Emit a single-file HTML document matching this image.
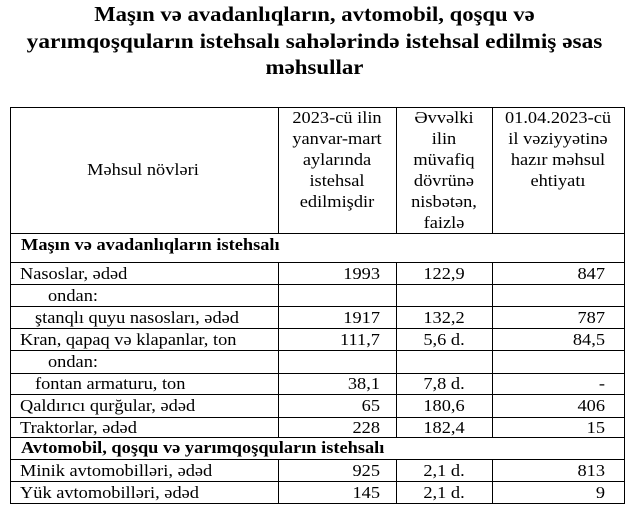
<!DOCTYPE html>
<html>
<head>
<meta charset="utf-8">
<style>
  html,body{margin:0;padding:0;background:#fff;}
  #c{position:relative;width:629px;height:505px;overflow:hidden;background:#fff;
     font-family:"Liberation Serif","DejaVu Serif",serif;color:#000;}
  .t{position:absolute;left:0;width:629px;text-align:center;font-weight:bold;font-size:21px;line-height:26.5px;white-space:nowrap;transform-origin:314.5px 50%;}
  .h{position:absolute;height:1px;background:#000;left:10px;width:615px;}
  .v{position:absolute;width:1px;background:#000;}
  .x{position:absolute;font-size:17px;white-space:nowrap;transform:scaleX(1.08);transform-origin:0 50%;}
  .r{text-align:right;transform-origin:100% 50%;}
  .cc{text-align:center;transform-origin:50% 50%;}
  .hd{position:absolute;font-size:17px;line-height:21px;text-align:center;white-space:nowrap;transform:scaleX(1.08);transform-origin:50% 50%;}
  b{font-weight:bold;}
</style>
</head>
<body>
<div id="c">
  <div class="t" style="top:1px;transform:scaleX(1.08);">Maşın və avadanlıqların, avtomobil, qoşqu və</div>
  <div class="t" style="top:27.5px;transform:scaleX(1.11);">yarımqoşquların istehsalı sahələrində istehsal edilmiş əsas</div>
  <div class="t" style="top:54px;transform:scaleX(1.09);">məhsullar</div>

  <!-- horizontal lines -->
  <div class="h" style="top:107px;"></div>
  <div class="h" style="top:233px;"></div>
  <div class="h" style="top:262px;"></div>
  <div class="h" style="top:284px;"></div>
  <div class="h" style="top:306px;"></div>
  <div class="h" style="top:328px;"></div>
  <div class="h" style="top:350px;"></div>
  <div class="h" style="top:373px;"></div>
  <div class="h" style="top:394px;"></div>
  <div class="h" style="top:417px;"></div>
  <div class="h" style="top:437px;"></div>
  <div class="h" style="top:459px;"></div>
  <div class="h" style="top:481px;"></div>
  <div class="h" style="top:503px;"></div>

  <!-- outer verticals -->
  <div class="v" style="left:10px;top:107px;height:397px;"></div>
  <div class="v" style="left:624px;top:107px;height:397px;"></div>
  <!-- inner verticals: header -->
  <div class="v" style="left:278px;top:107px;height:126px;"></div>
  <div class="v" style="left:396px;top:107px;height:126px;"></div>
  <div class="v" style="left:492px;top:107px;height:126px;"></div>
  <!-- inner verticals: body 1 -->
  <div class="v" style="left:278px;top:262px;height:175px;"></div>
  <div class="v" style="left:396px;top:262px;height:175px;"></div>
  <div class="v" style="left:492px;top:262px;height:175px;"></div>
  <!-- inner verticals: body 2 -->
  <div class="v" style="left:278px;top:459px;height:44px;"></div>
  <div class="v" style="left:396px;top:459px;height:44px;"></div>
  <div class="v" style="left:492px;top:459px;height:44px;"></div>

  <!-- header -->
  <div class="hd" style="left:10px;width:266px;top:159px;">Məhsul növləri</div>
  <div class="hd" style="left:278px;width:118px;top:107px;">2023-cü ilin<br>yanvar-mart<br>aylarında<br>istehsal<br>edilmişdir</div>
  <div class="hd" style="left:396px;width:96px;top:107px;">Əvvəlki<br>ilin<br>müvafiq<br>dövrünə<br>nisbətən,<br>faizlə</div>
  <div class="hd" style="left:492px;width:132px;top:107px;">01.04.2023-cü<br>il vəziyyətinə<br>hazır məhsul<br>ehtiyatı</div>

  <!-- section 1 -->
  <div class="x" style="left:21px;top:233px;line-height:24px;"><b>Maşın və avadanlıqların istehsalı</b></div>

  <!-- rows: label -->
  <div class="x" style="left:20px;top:262px;line-height:23px;">Nasoslar, ədəd</div>
  <div class="x" style="left:48px;top:284px;line-height:23px;">ondan:</div>
  <div class="x" style="left:35px;top:306px;line-height:23px;">ştanqlı quyu nasosları, ədəd</div>
  <div class="x" style="left:20px;top:328px;line-height:23px;">Kran, qapaq və klapanlar, ton</div>
  <div class="x" style="left:48px;top:350px;line-height:23px;">ondan:</div>
  <div class="x" style="left:35px;top:373px;line-height:22px;">fontan armaturu, ton</div>
  <div class="x" style="left:20px;top:394px;line-height:23px;">Qaldırıcı qurğular, ədəd</div>
  <div class="x" style="left:20px;top:417px;line-height:21px;">Traktorlar, ədəd</div>

  <!-- col2 -->
  <div class="x r" style="left:278px;width:102px;top:262px;line-height:23px;">1993</div>
  <div class="x r" style="left:278px;width:102px;top:306px;line-height:23px;">1917</div>
  <div class="x r" style="left:278px;width:102px;top:328px;line-height:23px;">111,7</div>
  <div class="x r" style="left:278px;width:102px;top:373px;line-height:22px;">38,1</div>
  <div class="x r" style="left:278px;width:102px;top:394px;line-height:23px;">65</div>
  <div class="x r" style="left:278px;width:102px;top:417px;line-height:21px;">228</div>

  <!-- col3 -->
  <div class="x cc" style="left:396px;width:96px;top:262px;line-height:23px;">122,9</div>
  <div class="x cc" style="left:396px;width:96px;top:306px;line-height:23px;">132,2</div>
  <div class="x cc" style="left:396px;width:96px;top:328px;line-height:23px;">5,6 d.</div>
  <div class="x cc" style="left:396px;width:96px;top:373px;line-height:22px;">7,8 d.</div>
  <div class="x cc" style="left:396px;width:96px;top:394px;line-height:23px;">180,6</div>
  <div class="x cc" style="left:396px;width:96px;top:417px;line-height:21px;">182,4</div>

  <!-- col4 -->
  <div class="x r" style="left:492px;width:113px;top:262px;line-height:23px;">847</div>
  <div class="x r" style="left:492px;width:113px;top:306px;line-height:23px;">787</div>
  <div class="x r" style="left:492px;width:113px;top:328px;line-height:23px;">84,5</div>
  <div class="x r" style="left:492px;width:113px;top:373px;line-height:22px;">-</div>
  <div class="x r" style="left:492px;width:113px;top:394px;line-height:23px;">406</div>
  <div class="x r" style="left:492px;width:113px;top:417px;line-height:21px;">15</div>

  <!-- section 2 -->
  <div class="x" style="left:21px;top:437px;line-height:22px;"><b>Avtomobil, qoşqu və yarımqoşquların istehsalı</b></div>

  <div class="x" style="left:20px;top:459px;line-height:23px;">Minik avtomobilləri, ədəd</div>
  <div class="x" style="left:20px;top:481px;line-height:23px;">Yük avtomobilləri, ədəd</div>

  <div class="x r" style="left:278px;width:102px;top:459px;line-height:23px;">925</div>
  <div class="x r" style="left:278px;width:102px;top:481px;line-height:23px;">145</div>
  <div class="x cc" style="left:396px;width:96px;top:459px;line-height:23px;">2,1 d.</div>
  <div class="x cc" style="left:396px;width:96px;top:481px;line-height:23px;">2,1 d.</div>
  <div class="x r" style="left:492px;width:113px;top:459px;line-height:23px;">813</div>
  <div class="x r" style="left:492px;width:113px;top:481px;line-height:23px;">9</div>
</div>
</body>
</html>
